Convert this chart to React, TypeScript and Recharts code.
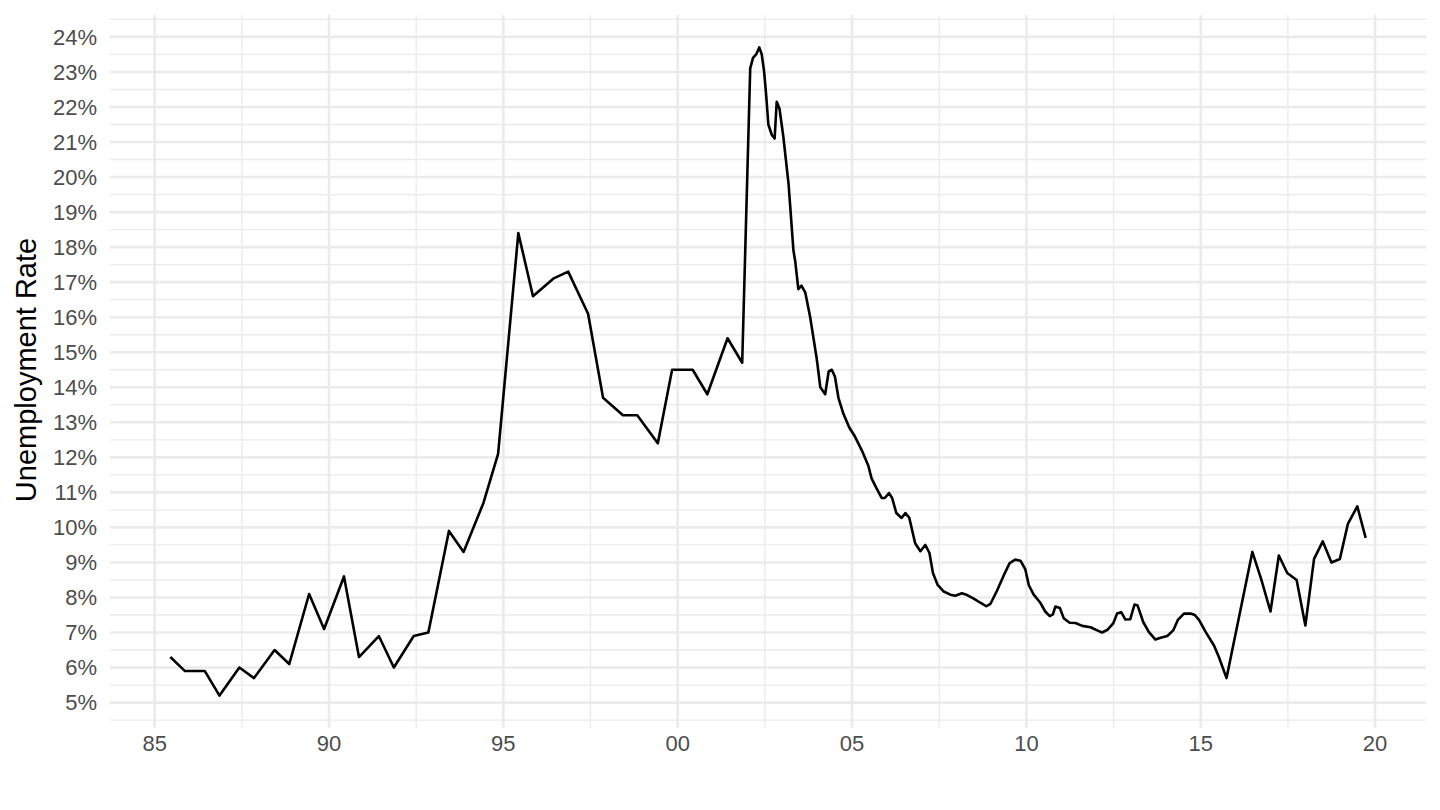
import { LineChart, Line, XAxis, YAxis, CartesianGrid } from "recharts";

// decimal year of each observation (semi-annual until 2001, then denser)
const dates = [
  1985.45, 1985.87, 1986.44, 1986.86, 1987.43, 1987.85, 1988.44, 1988.86,
  1989.43, 1989.86, 1990.43, 1990.86, 1991.43, 1991.86, 1992.43, 1992.85,
  1993.44, 1993.86, 1994.43, 1994.85, 1995.43, 1995.85, 1996.43, 1996.86,
  1997.43, 1997.86, 1998.43, 1998.84, 1999.43, 1999.84, 2000.43, 2000.85,
  2001.43, 2001.85,
  2002.08, 2002.16, 2002.25, 2002.34, 2002.41, 2002.48, 2002.54, 2002.6,
  2002.7, 2002.78, 2002.84, 2002.92, 2003.03, 2003.18, 2003.32, 2003.37,
  2003.46, 2003.55, 2003.66, 2003.8, 2003.99, 2004.09, 2004.23, 2004.33,
  2004.42, 2004.51, 2004.61, 2004.75, 2004.92, 2005.08, 2005.28, 2005.47,
  2005.56, 2005.7, 2005.85, 2005.94, 2006.06, 2006.15, 2006.27, 2006.42,
  2006.53, 2006.64, 2006.81, 2006.96, 2007.1, 2007.22, 2007.32, 2007.45,
  2007.63, 2007.82, 2007.96, 2008.15, 2008.3, 2008.49, 2008.68, 2008.85,
  2008.97, 2009.16, 2009.35, 2009.52, 2009.68, 2009.83, 2009.97, 2010.07,
  2010.21, 2010.4, 2010.54, 2010.67, 2010.76, 2010.83, 2010.96, 2011.07,
  2011.24, 2011.41, 2011.6, 2011.84, 2012.03, 2012.17, 2012.33, 2012.49,
  2012.6, 2012.72, 2012.84, 2012.98, 2013.1, 2013.19, 2013.35, 2013.51,
  2013.7, 2013.85, 2014.04, 2014.21, 2014.35, 2014.52, 2014.71, 2014.83,
  2014.95, 2015.14, 2015.38, 2015.52, 2015.74,
  2016.48, 2016.74, 2017.0, 2017.24, 2017.48, 2017.75, 2018.0, 2018.25,
  2018.5, 2018.75, 2018.99, 2019.22, 2019.49, 2019.73,
];

// unemployment rate, %
const rates = [
  6.3, 5.9, 5.9, 5.2, 6.0, 5.7, 6.5, 6.1,
  8.1, 7.1, 8.6, 6.3, 6.9, 6.0, 6.9, 7.0,
  9.9, 9.3, 10.7, 12.1, 18.4, 16.6, 17.1, 17.3,
  16.1, 13.7, 13.2, 13.2, 12.4, 14.5, 14.5, 13.8,
  15.4, 14.7,
  23.1, 23.4, 23.5, 23.7, 23.5, 23.0, 22.3, 21.5,
  21.2, 21.1, 22.15, 21.95, 21.15, 19.8, 17.9, 17.6,
  16.8, 16.9, 16.7, 16.0, 14.8, 14.0, 13.8, 14.45,
  14.5, 14.3, 13.7, 13.25, 12.85, 12.6, 12.2, 11.75,
  11.4, 11.12, 10.84, 10.84, 10.98, 10.84, 10.41, 10.27,
  10.41, 10.28, 9.55, 9.32, 9.5, 9.27, 8.7, 8.37,
  8.17, 8.08, 8.05, 8.12, 8.07, 7.97, 7.85, 7.75,
  7.82, 8.2, 8.63, 8.98, 9.08, 9.05, 8.8, 8.35,
  8.08, 7.85, 7.6, 7.47, 7.52, 7.74, 7.7, 7.41,
  7.28, 7.27, 7.19, 7.15, 7.06, 7.0, 7.08, 7.26,
  7.54, 7.58, 7.37, 7.38, 7.8, 7.77, 7.3, 7.02,
  6.8, 6.85, 6.9, 7.06, 7.37, 7.54, 7.54, 7.5,
  7.36, 7.02, 6.63, 6.3, 5.7,
  9.3, 8.5, 7.6, 9.2, 8.7, 8.5, 7.2, 9.1,
  9.6, 9.0, 9.1, 10.1, 10.6, 9.7,
];

const yearTicks = [1985, 1990, 1995, 2000, 2005, 2010, 2015, 2020];
const yearMinor = [1987.5, 1992.5, 1997.5, 2002.5, 2007.5, 2012.5, 2017.5];
const rateTicks = [5, 6, 7, 8, 9, 10, 11, 12, 13, 14, 15, 16, 17, 18, 19, 20, 21, 22, 23, 24];
const rateMinor = [
  4.5, 5.5, 6.5, 7.5, 8.5, 9.5, 10.5, 11.5, 12.5, 13.5, 14.5, 15.5, 16.5,
  17.5, 18.5, 19.5, 20.5, 21.5, 22.5, 23.5, 24.5,
];

const data = dates.map((d, i) => ({ date: d, rate: rates[i] }));

const font = "'Liberation Sans', Arial, Helvetica, sans-serif";
const gridColor = "#EBEBEB";

const yearLabel = (v: number) => String(Math.round(v) % 100).padStart(2, "0");

export default function App() {
  return (
    <div style={{ position: "fixed", left: 0, top: 0, background: "#fff" }}>
      <LineChart
        width={1440}
        height={810}
        data={data}
        margin={{ top: 15, right: 14, bottom: 0, left: 0 }}
      >
        <CartesianGrid
          stroke={gridColor}
          strokeWidth={1.35}
          horizontalValues={rateMinor}
          verticalValues={yearMinor}
        />
        <CartesianGrid
          stroke={gridColor}
          strokeWidth={2.6}
          horizontalValues={rateTicks}
          verticalValues={yearTicks}
        />
        <XAxis
          dataKey="date"
          type="number"
          domain={[1983.72, 2021.46]}
          ticks={yearTicks}
          tickFormatter={yearLabel}
          axisLine={false}
          tickLine={false}
          tickSize={0}
          tickMargin={7}
          height={82}
          interval={0}
          tick={{ fill: "#4D4D4D", fontSize: 22, fontFamily: font }}
        />
        <YAxis
          type="number"
          domain={[4.275, 24.625]}
          ticks={rateTicks}
          tickFormatter={(v: number) => `${v}%`}
          axisLine={false}
          tickLine={false}
          tickSize={0}
          tickMargin={13}
          width={110}
          interval={0}
          tick={{ fill: "#4D4D4D", fontSize: 22, fontFamily: font }}
          label={{
            content: () => (
              <text
                x={26}
                y={370}
                transform="rotate(-90 26 370)"
                textAnchor="middle"
                dominantBaseline="central"
                fill="#000"
                fontSize={29}
                fontFamily={font}
              >
                Unemployment Rate
              </text>
            ),
          }}
        />
        <Line
          dataKey="rate"
          type="linear"
          stroke="#000"
          strokeWidth={2.6}
          strokeLinejoin="round"
          dot={false}
          activeDot={false}
          isAnimationActive={false}
        />
      </LineChart>
    </div>
  );
}
